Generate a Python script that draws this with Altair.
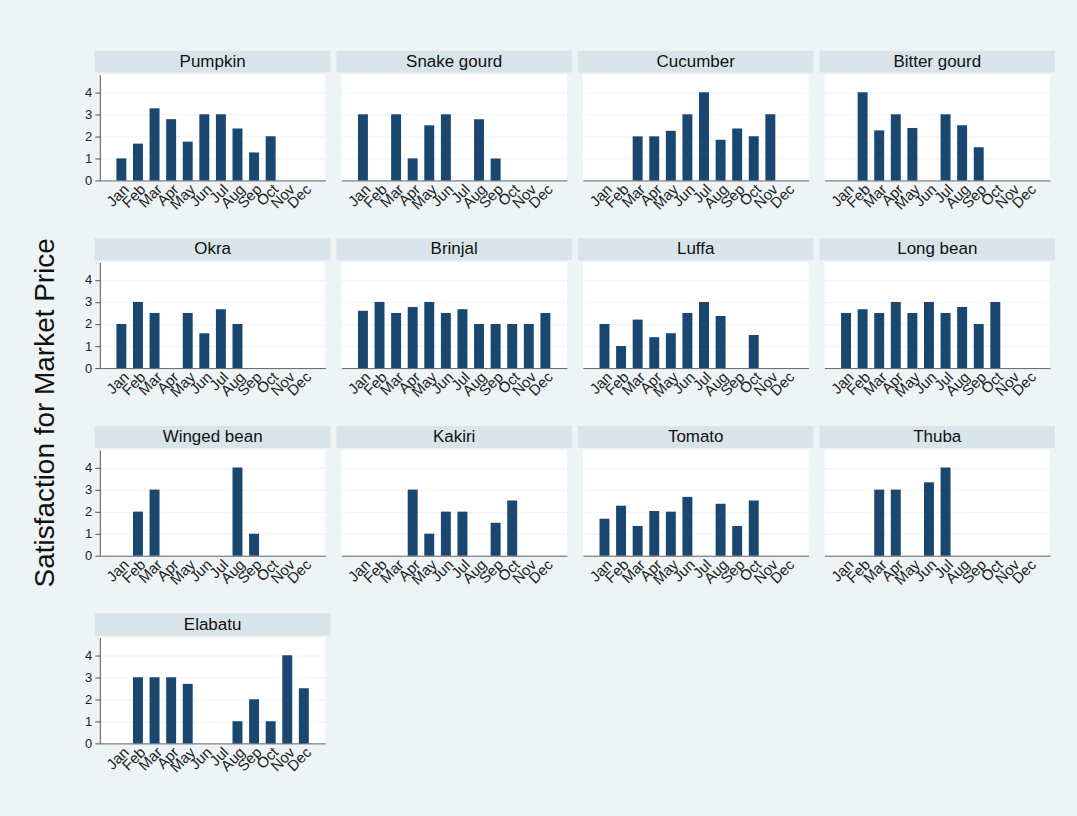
import altair as alt
import pandas as pd

months = ["Jan", "Feb", "Mar", "Apr", "May", "Jun", "Jul", "Aug", "Sep", "Oct", "Nov", "Dec"]
vegetables = ["Pumpkin", "Snake gourd", "Cucumber", "Bitter gourd", "Okra", "Brinjal", "Luffa",
              "Long bean", "Winged bean", "Kakiri", "Tomato", "Thuba", "Elabatu"]

pumpkin      = [1.0, 1.67, 3.27, 2.78, 1.76, 3.0, 3.0, 2.35, 1.27, 2.0, None, None]
snake_gourd  = [3.0, None, 3.0, 1.0, 2.5, 3.0, None, 2.77, 1.0, None, None, None]
cucumber     = [None, None, 2.0, 2.0, 2.25, 3.0, 4.0, 1.85, 2.35, 2.0, 3.0, None]
bitter_gourd = [None, 4.0, 2.27, 3.0, 2.38, None, 3.0, 2.5, 1.5, None, None, None]
okra         = [2.0, 3.0, 2.5, None, 2.5, 1.58, 2.67, 2.0, None, None, None, None]
brinjal      = [2.6, 3.0, 2.5, 2.77, 3.0, 2.5, 2.67, 2.0, 2.0, 2.0, 2.0, 2.5]
luffa        = [2.0, 1.0, 2.2, 1.4, 1.58, 2.5, 3.0, 2.36, None, 1.5, None, None]
long_bean    = [2.5, 2.67, 2.5, 3.0, 2.5, 3.0, 2.5, 2.77, 2.0, 3.0, None, None]
winged_bean  = [None, 2.0, 3.0, None, None, None, None, 4.0, 1.0, None, None, None]
kakiri       = [None, None, None, 3.0, 1.0, 2.0, 2.0, None, 1.5, 2.5, None, None]
tomato       = [1.68, 2.27, 1.35, 2.03, 2.0, 2.67, None, 2.36, 1.35, 2.5, None, None]
thuba        = [None, None, 3.0, 3.0, None, 3.33, 4.0, None, None, None, None, None]
elabatu      = [None, 3.0, 3.0, 3.0, 2.7, None, None, 1.0, 2.0, 1.0, 4.0, 2.5]

series = [pumpkin, snake_gourd, cucumber, bitter_gourd, okra, brinjal, luffa,
          long_bean, winged_bean, kakiri, tomato, thuba, elabatu]

rows = []
for veg, vals in zip(vegetables, series):
    for m, v in zip(months, vals):
        rows.append({"veg": veg, "month": m, "value": v})
df = pd.DataFrame(rows)

W, H = 226, 106
BAR = "#1a476f"


def panel(i, veg):
    first_col = (i % 4 == 0)
    if first_col:
        yaxis = alt.Axis(title=None, values=[0, 1, 2, 3, 4], labelFontSize=13, labelColor="#222",
                         tickSize=5, tickColor="#555", domainColor="#555",
                         grid=True, gridColor="#eef3f4", labelPadding=3)
    else:
        yaxis = alt.Axis(title=None, values=[0, 1, 2, 3, 4], labels=False, ticks=False,
                         domain=False, grid=True, gridColor="#eef3f4")
    base = alt.Chart(df).transform_filter(alt.datum.veg == veg)
    bars = base.mark_bar(color=BAR).encode(
        x=alt.X("month:N", sort=months,
                scale=alt.Scale(domain=months, paddingInner=0.4, paddingOuter=1.0),
                axis=alt.Axis(title=None, labelAngle=-45, labelFontSize=15, labelColor="#222",
                              ticks=False, domainColor="#666", labelPadding=1, labelOverlap=False)),
        y=alt.Y("value:Q", scale=alt.Scale(domain=[0, 4.8], nice=False), axis=yaxis),
    )
    first = base.transform_filter(alt.datum.month == "Jan")
    strip = first.mark_rect(color="#d8e4ea").encode(
        x=alt.value(-5), x2=alt.value(W + 5), y=alt.value(-24), y2=alt.value(-2)
    )
    label = first.mark_text(fontSize=17, color="#111", font="Liberation Sans").encode(
        x=alt.value(W / 2), y=alt.value(-13), text="veg:N"
    )
    return alt.layer(strip, bars, label).properties(width=W, height=H)


panels = [panel(i, v) for i, v in enumerate(vegetables)]

chart = alt.concat(
    *panels, columns=4, spacing={"row": 82, "column": 16}, bounds="flush"
).properties(
    title=alt.Title("Satisfaction for Market Price", orient="left", anchor="middle",
                    fontSize=28, fontWeight="normal", color="#111", offset=25,
                    font="Liberation Sans"),
    padding={"left": 31, "top": 50, "right": 22, "bottom": 40},
).configure(
    background="#eef3f5",
    font="Liberation Sans",
).configure_view(
    fill="white", stroke=None
)

chart.save("out.html", embed_options={"renderer": "svg", "actions": False})
